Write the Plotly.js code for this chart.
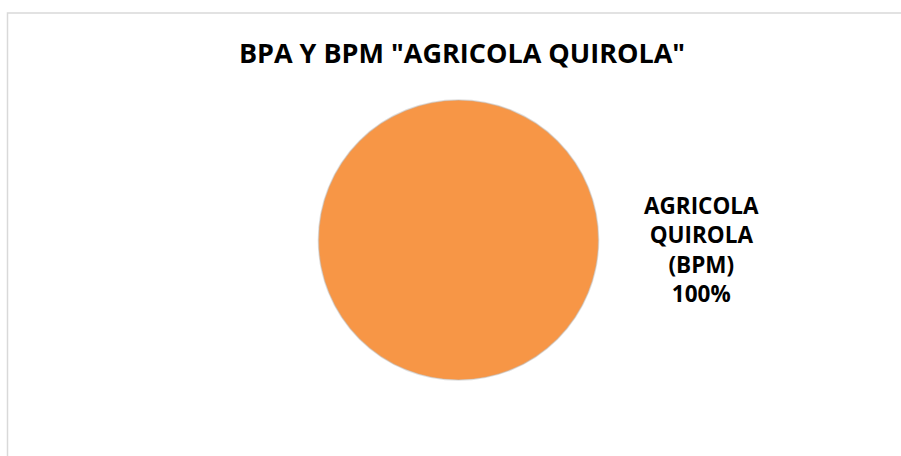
<!DOCTYPE html>
<html>
<head>
<meta charset="utf-8">
<script src="https://cdn.plot.ly/plotly-3.0.1.min.js"></script>
<style>
  html, body { margin: 0; padding: 0; background: #fff; }
  #chart { width: 901px; height: 456px; }
</style>
</head>
<body>
<div id="chart"></div>
<script>
// Data
const chartTitle = 'BPA Y BPM "AGRICOLA QUIROLA"';
const labels = ['AGRICOLA QUIROLA (BPM)'];
const labelLines = [['AGRICOLA', 'QUIROLA', '(BPM)']];
const values = [100];
const colors = ['#F79646'];

const total = values.reduce((a, b) => a + b, 0);
const annText = labelLines[0].join('<br>') + '<br>' + Math.round(values[0] / total * 100) + '%';

const trace = {
  type: 'pie',
  labels: labels,
  values: values,
  sort: false,
  direction: 'clockwise',
  rotation: 0,
  textinfo: 'none',
  hoverinfo: 'label+percent',
  marker: { colors: colors, line: { color: 'rgba(190,190,190,0.5)', width: 1.5 } },
  domain: { x: [318 / 901, 599 / 901], y: [1 - 380 / 456, 1 - 100 / 456] },
  showlegend: false
};

const layout = {
  width: 901,
  height: 456,
  margin: { l: 0, r: 0, t: 0, b: 0 },
  paper_bgcolor: '#ffffff',
  plot_bgcolor: '#ffffff',
  showlegend: false,
  font: { family: '"Open Sans", "Noto Sans", sans-serif', color: '#000000' },
  title: {
    text: '<b>' + chartTitle + '</b>',
    font: { family: '"Open Sans", sans-serif', size: 27, color: '#000000' },
    x: 462 / 901,
    xanchor: 'center',
    xref: 'paper',
    y: 1 - 54 / 456,
    yanchor: 'middle',
    yref: 'container'
  },
  annotations: [{
    text: '<b>' + annText + '</b>',
    x: 701 / 901,
    y: 1 - 249 / 456,
    xref: 'paper',
    yref: 'paper',
    xanchor: 'center',
    yanchor: 'middle',
    align: 'center',
    showarrow: false,
    font: { family: '"Open Sans", sans-serif', size: 22.5, color: '#000000' }
  }],
  shapes: [{
    type: 'rect',
    xref: 'paper',
    yref: 'paper',
    x0: 7.5 / 901,
    x1: 1.05,
    y0: -0.05,
    y1: 1 - 13 / 456,
    line: { color: '#d9d9d9', width: 1.5 },
    fillcolor: 'rgba(0,0,0,0)',
    layer: 'below'
  }]
};

Plotly.newPlot('chart', [trace], layout, { displayModeBar: false, staticPlot: true });
</script>
</body>
</html>
